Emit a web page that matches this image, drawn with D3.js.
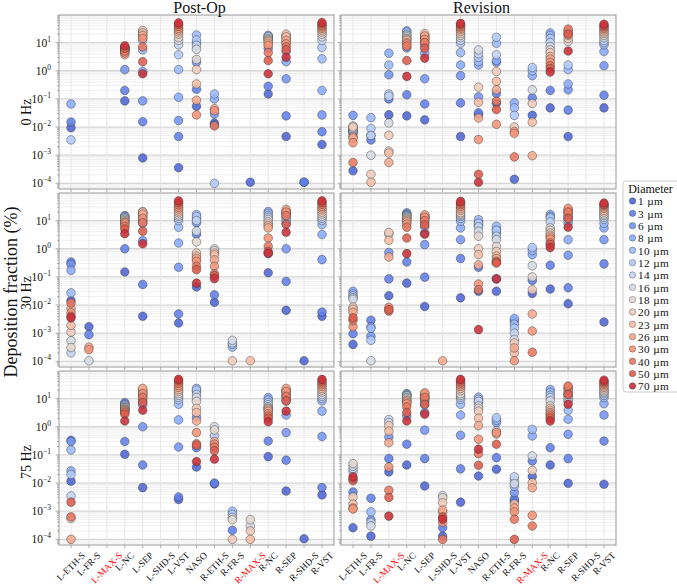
<!DOCTYPE html>
<html>
<head>
<meta charset="utf-8">
<script src="https://cdn.jsdelivr.net/npm/d3@7"></script>
<style>
  body { margin: 0; background: #fff; }
  text { font-family: "Liberation Serif", "DejaVu Serif", serif; fill: #111; }
</style>
</head>
<body>
<svg id="chart" width="677" height="585"></svg>
<script>
// Categories and labels
const regions = ['L-ETH-S', 'L-FR-S', 'L-MAX-S', 'L-NC', 'L-SEP', 'L-SHD-S', 'L-VST', 'NASO',
  'R-ETH-S', 'R-FR-S', 'R-MAX-S', 'R-NC', 'R-SEP', 'R-SHD-S', 'R-VST'];
const highlighted = ['L-MAX-S', 'R-MAX-S'];
const diameters = [1, 3, 6, 8, 10, 12, 14, 16, 18, 20, 23, 26, 30, 40, 50, 70];
const columns = ['Post-Op', 'Revision'];
const rowLabels = ['0 Hz', '30 Hz', '75 Hz'];
const yTickExps = [-4, -3, -2, -1, 0, 1];

// Deposition fraction (%) per region (rows) and per diameter (columns)
const N = null;
const none = [N, N, N, N, N, N, N, N, N, N, N, N, N, N, N, N];

const postOp0Hz = [
  [0.0095, 0.015, N, 0.066, N, 0.0035, N, N, N, N, N, N, N, N, N, N],
  none,
  none,
  [0.085, 0.2, 1.1, 4.8, 5.2, 5.6, 6.0, 6.3, 6.6, 6.9, 6.0, 3.7, 4.3, 5.0, 6.3, 7.7],
  [0.0008, 0.0155, 0.085, 0.95, 5.5, 12, 16, 20, 25, 27, 22, 18, 14, 7, 2.1, 0.78],
  none,
  [0.00036, 0.0046, 0.017, 0.115, 1.1, 3.7, 8.3, 12, 15, 20, 24, 28, 32, 38, 44, 50],
  [0.055, 0.22, 2.0, 10, 18.6, 12.4, 8, 5.8, 2.5, 1.1, 0.34, 0.09, 0.027, N, N, N],
  [0.014, 0.012, 0.029, 0.1, 0.15, 0.0001, N, N, N, N, N, 0.045, 0.038, 0.011, N, N],
  none,
  [0.00011, N, N, N, N, N, N, N, N, N, N, N, N, N, N, N],
  [0.15, 0.28, 6.3, 15, 18, 17, 16, 14, 13, 12, 11, 9.5, 8, 4.4, 2.3, 0.78],
  [0.0046, 0.025, 0.52, 2.1, 4.8, 10, 13, 16, 18, 20, 16, 12, 9, 7, 5.5, 3],
  [0.00011, 0.00011, N, N, N, N, N, N, N, N, N, N, N, N, N, N],
  [0.0024, 0.0068, 0.027, 0.2, 2.65, 6.7, 12, 16, 20, 24, 28, 32, 36, 40, 46, 52]
];

const revision0Hz = [
  [0.00028, 0.0055, 0.026, 0.0065, 0.007, 0.0075, 0.008, 0.009, 0.011, 0.01, 0.0045, 0.004, 0.0028, 0.00055, N, N],
  [N, 0.0035, N, 0.0051, 0.0215, 0.0089, 0.005, 0.001, N, 0.00021, 0.00011, N, N, N, N, N],
  [0.027, 0.1, 0.72, 4.2, 1.6, 0.15, 0.125, 0.014, 0.0014, 0.0051, 0.0012, 0.00055, N, N, N, N],
  [0.025, 0.14, 6.5, 26, 24, 20, 18, 16, 14, 13, 12, 10, 9, 7.5, 2.3, 0.63],
  [0.018, 0.066, 0.52, 4.2, 8, 10, 12, 14, 16, 18, 21, 17, 13, 10, 6.3, 2.8],
  none,
  [0.0046, 0.072, 0.67, 1.6, 4.4, 9.5, 12, 15, 18, 21, 25, 29, 33, 38, 43, 48],
  [0.028, 0.032, 0.118, 1.6, 2.1, 3, 4, 5.5, N, 0.26, 0.076, 0.021, 0.0036, N, 0.00021, 0.00011],
  [0.07, 0.155, 2.0, 2.3, 9.5, 15.4, 3.7, N, N, 0.95, 0.42, 0.21, 0.0125, 0.083, 0.042, N],
  [0.00014, N, N, 0.072, 0.048, 0.026, N, N, N, 0.01, N, 0.007, 0.006, 0.00087, N, N],
  [0.026, 0.11, N, 0.67, 1.0, 1.3, N, 0.21, N, 0.069, 0.015, 0.00096, N, N, N, N],
  [0.048, 0.2, N, 22, 18, 14, 10, 7.2, 5.5, 4.4, 3.2, 2.6, 2.0, 1.5, 1.2, 0.9],
  [0.0046, 0.04, 0.21, 0.34, 1.1, 1.6, N, N, 11, 14, 18, 22, 26, 30, 20, 5.0],
  none,
  [0.048, 0.135, 1.5, 4.8, 8.3, 10, 12, 15, 18, 21, 24, 28, 32, 36, 40, 45]
];

const postOp30Hz = [
  [0.0145, 0.34, 0.28, 0.17, 0.027, N, 0.0002, 0.00054, 0.00031, 0.0011, 0.0019, 0.0074, 0.0053, 0.0118, 0.004, 0.0035],
  [0.0017, 0.00089, N, N, N, N, N, 0.000105, N, N, N, 0.00032, 0.00026, N, N, N],
  none,
  [0.15, 1.0, 14, 15, 14, 13, 12, 11, 9.5, 10, 9, 8.5, 7.6, 6.3, 5, 3.4],
  [0.004, 0.054, 1.95, 8, 10, 12, 14, 16, 18, 21, 20, 17, 12, 8.3, 4.2, 1.5],
  none,
  [0.0023, 0.0048, 0.22, 1.6, 5.8, 10, 12, 14, 16, 19, 22, 26, 30, 36, 43, 50],
  [0.044, 3.3, 8.3, 12.4, 16.4, 14, 10, 4.2, 1.75, 0.7, 0.55, 0.45, 0.36, 0.24, 0.18, 0.06],
  [0.0126, 0.023, N, N, N, N, N, 1.0, 0.85, 0.7, 0.6, 0.4, 0.24, 0.13, 0.11, 0.087],
  [N, N, N, N, 0.00032, 0.0004, 0.00045, 0.00056, N, 0.000105, N, N, N, N, N, N],
  [N, N, N, N, N, N, N, N, N, N, 0.000105, N, N, N, N, N],
  [0.14, 0.67, N, 21, 18, 15, 13, 11, 9, 7.5, 6.5, 5.5, 2.4, 1.23, 0.8, 0.7],
  [0.0065, 0.069, 1.0, 8, 10, 12, 14, 16, 18, 20, 22, 25, 20, 15, 7.3, 3.85],
  [0.000105, N, N, N, N, N, N, N, N, N, N, N, N, N, N, N],
  [0.004, 0.0056, 0.41, 3.2, 7.2, 10, 12, 14, 17, 20, 24, 28, 32, 38, 44, 50]
];

const revision30Hz = [
  [0.0004, 0.00096, N, 0.031, 0.025, 0.021, 0.018, 0.016, N, 0.0085, 0.0071, 0.0055, 0.0017, 0.0028, 0.0035, N],
  [N, 0.0029, 0.00078, 0.0017, 0.0015, 0.00056, N, 0.000105, N, N, N, N, N, N, N, N],
  [0.0215, 0.085, 0.74, N, N, N, N, 3.3, N, 3.8, 2.0, 0.51, 0.0083, 0.0061, 0.0069, N],
  [0.06, 0.34, 19, 17, 16, 15, 14, 13, 12, 11, 10, 9, 7.5, 5.8, 2.4, 0.67],
  [0.0089, 0.098, 1.4, 3.6, 6, 8, 10, 12, 13, 14, 15, 16, 13, 10, 7, 3.3],
  [N, N, N, N, N, N, N, N, N, N, N, 0.000105, N, N, N, N],
  [0.018, 0.45, 2.1, 5.5, 9.5, 12, 14, 15.5, 17, 19, 23, 27, 32, 37, 42, 48],
  [0.031, 0.22, 7.0, 9.0, 10.8, 8, 6, 4.2, 2.8, 1.0, 0.62, 0.27, 0.056, 0.035, N, 0.00134],
  [0.031, 0.085, 3.6, 5.0, 6.3, 4.5, 2.8, 2.1, 1.2, 0.8, 0.55, 0.45, 0.36, 0.33, 0.31, 0.085],
  [N, N, 0.0027, 0.0033, 0.0021, 0.0015, 0.001, 0.0006, N, 0.00045, 0.0002, 0.0003, 0.000105, N, N, N],
  [0.026, 0.075, N, 0.62, 0.87, 1.1, N, 0.25, 0.1, 0.035, N, 0.0048, 0.0012, 0.00021, N, N],
  [0.037, 0.26, N, 16.4, 14, 12.4, 9, 5.5, 4.5, 3.6, 3, 2.6, 2.2, 1.6, 1.4, 1.1],
  [0.0112, 0.041, 0.59, 2.1, 8, 10, 12, 14, 16, 18, 21, 24, 27, 20, 12, 5.8],
  none,
  [0.0025, 0.29, 2.1, 5.5, 8, 11, 13, 15, 17, 20, 23, 27, 31, 35, 38, 42]
];

const postOp75Hz = [
  [0.0117, 0.33, 0.3, 0.027, 0.15, 0.02, 0.0035, N, 0.00055, N, N, 0.0001, N, 0.00063, 0.0021, N],
  none,
  none,
  [0.105, 0.3, 7.2, 6.5, 6, 5.5, 5, 4.8, 4.5, 4.2, 4, 3.8, 3.5, 3.2, 2.8, 1.6],
  [0.0069, 0.044, 1.0, 6, 8, 10, 12, 14, 16, 18, 20, 23, 15, 11, 7.2, 3.85],
  none,
  [0.0026, 0.0032, 0.19, 1.75, 6.3, 9, 11, 13, 15, 18, 21, 25, 29, 35, 42, 48],
  [0.037, 0.18, 2.2, 18, 23, 20, 14, 11, 8, 4.5, 3.2, 1.6, 0.62, 0.25, 0.22, 0.058],
  [0.0093, 0.01, N, N, N, 0.48, N, 1.0, 0.77, N, N, 0.3, 0.24, 0.19, 0.14, 0.071],
  [N, 0.00021, N, N, 0.001, 0.00077, N, 0.0006, 0.0005, 0.0001, N, N, N, N, N, N],
  [N, N, N, N, N, N, N, 0.0003, 0.0005, 0.0002, 0.0001, N, N, N, N, N],
  [0.087, 0.31, N, 10.8, 9, 7.2, 6, 5.1, 4.6, 4.3, 3.9, 3.5, 2.9, 2.4, 2.0, 1.5],
  [0.0052, 0.065, 0.62, 2.6, 8.3, 10, 12, 14, 16, 18, 20, 23, 18, 12, 8.3, 3.6],
  [0.000105, N, N, N, N, N, N, N, N, N, N, N, N, N, N, N],
  [0.0038, 0.0069, 0.45, 3.6, 8.3, 10, 12, 14, 17, 20, 23, 27, 31, 36, 42, 48]
];

const revision75Hz = [
  [0.00026, 0.0048, N, N, N, 0.025, 0.032, 0.04, 0.049, 0.0032, 0.0018, 0.0013, 0.0012, 0.012, 0.014, 0.0166],
  [0.00013, 0.0029, 0.0005, N, 0.00095, N, 0.0004, 0.0003, N, N, N, N, N, N, N, N],
  [0.025, 0.074, 0.43, N, N, N, 1.8, 1.4, N, 1.1, 0.7, 0.27, 0.037, 0.0055, 0.0031, 0.00067],
  [0.044, 0.24, 2.4, 15, 14, 13, 12.5, 11, 10.3, 9, 8.3, 7.5, 6.6, 5.1, 3.2, 1.6],
  [0.0079, 0.074, 0.76, 3.2, 6, 8, 9, 10, 11, 12, 13, 15, 16, 11, 6.3, 2.8],
  [0.00013, 0.00026, N, N, N, N, N, 0.0036, 0.003, 0.002, 0.00093, 0.0011, 0.0004, 0.0001, 0.00063, 0.00052],
  [0.0021, 0.032, 0.5, 2.6, 6.3, 9.5, 11.3, 13, 15, 19, 23, 27, 31, 36, 42, 48],
  [0.0178, N, N, 7.2, 11.3, 9.5, 8, 5.5, 4.5, 3.6, 2.0, 1.1, 0.36, 0.11, 0.043, 0.16],
  [0.031, 0.08, N, 1.4, 1.7, 2.1, N, 0.71, N, N, N, 0.55, 0.62, N, 0.24, N],
  [0.0023, 0.0027, 0.0046, N, 0.0077, 0.0125, 0.0166, 0.0095, N, N, 0.0018, 0.0013, 0.00095, 0.00052, 0.0001, N],
  [0.017, 0.061, N, 0.47, 0.8, N, N, 0.092, N, 0.028, 0.0103, 0.0068, 0.00071, 0.0003, N, N],
  [0.044, 0.18, N, 21, 16.5, 13, 10.8, 8.3, 5.5, 4.5, 3.8, 3.2, 2.8, 2.4, 2.0, 1.6],
  [0.0098, 0.074, 0.54, 1.85, 3.85, 8, 10, 12, 14, 16, 19, 22, 25, 28, 14, 6.3],
  none,
  [0.0091, 0.31, 2.6, 6.6, 10.8, 13, 15, 17, 19, 22, 25, 28, 32, 36, 40, 45]
];

// facets laid out as [row][column]
const facets = [
  [postOp0Hz, revision0Hz],
  [postOp30Hz, revision30Hz],
  [postOp75Hz, revision75Hz]
];

// Layout
const colX = [59, 341];
const rowY = [15, 193, 371];
const panelW = 275;
const panelH = 174;

// Matplotlib coolwarm, sampled like seaborn (end points skipped)
const coolwarm = d3.piecewise(d3.interpolateRgb, [
  '#3b4cc0', '#6282ea', '#8db0fe', '#b8d0f9', '#dddddd',
  '#f5c4ad', '#f49a7b', '#de604d', '#b40426'
]);
const color = i => coolwarm((i + 1) / (diameters.length + 1));

const svg = d3.select('#chart');

const x = d3.scalePoint().domain(regions).range([0, panelW]).padding(0.67);
const y = d3.scaleLog().domain([Math.pow(10, -4.2), Math.pow(10, 1.98)]).range([panelH, 0]);

// all tick values for the log axis (1..9 x 10^k) that fall inside the domain
const logTicks = [];
for (let k = -5; k <= 2; k++) {
  for (let m = 1; m <= 9; m++) {
    const v = m * Math.pow(10, k);
    if (v >= y.domain()[0] && v <= y.domain()[1]) logTicks.push({ v, major: m === 1 });
  }
}

function powLabel(sel, e) {
  sel.append('tspan').text('10');
  sel.append('tspan')
    .attr('dy', -5)
    .attr('font-size', 7.5)
    .text(e < 0 ? '\u2212' + (-e) : e);
}

facets.forEach((row, ri) => {
  row.forEach((facet, ci) => {
    const g = svg.append('g').attr('transform', `translate(${colX[ci]},${rowY[ri]})`);

    // grid
    g.selectAll('.hgrid')
      .data(logTicks)
      .join('line')
      .attr('x1', 0).attr('x2', panelW)
      .attr('y1', d => y(d.v)).attr('y2', d => y(d.v))
      .attr('stroke', d => d.major ? '#d6d6d6' : '#e9e9e9')
      .attr('stroke-width', d => d.major ? 1.3 : 0.7);
    g.selectAll('.vgrid')
      .data(regions)
      .join('line')
      .attr('x1', d => x(d)).attr('x2', d => x(d))
      .attr('y1', 0).attr('y2', panelH)
      .attr('stroke', '#e2e2e2')
      .attr('stroke-width', 0.8);

    // ticks on left and bottom edges
    g.selectAll('.ytick')
      .data(logTicks)
      .join('line')
      .attr('x1', d => d.major ? -3.5 : -2).attr('x2', 0)
      .attr('y1', d => y(d.v)).attr('y2', d => y(d.v))
      .attr('stroke', '#777').attr('stroke-width', 0.6);
    g.selectAll('.xtick')
      .data(regions)
      .join('line')
      .attr('x1', d => x(d)).attr('x2', d => x(d))
      .attr('y1', panelH).attr('y2', panelH + 3)
      .attr('stroke', '#777').attr('stroke-width', 0.6);

    // points, smaller diameters first so the larger ones sit on top
    const pts = [];
    diameters.forEach((dia, di) => {
      regions.forEach((reg, ri2) => {
        const v = facet[ri2][di];
        if (v !== null) pts.push({ reg, di, v });
      });
    });
    g.selectAll('circle')
      .data(pts)
      .join('circle')
      .attr('cx', d => x(d.reg))
      .attr('cy', d => y(d.v))
      .attr('r', 4.3)
      .attr('fill', d => color(d.di))
      .attr('fill-opacity', 0.88)
      .attr('stroke', '#2b2b2b')
      .attr('stroke-opacity', 0.75)
      .attr('stroke-width', 0.55);

    // frame
    g.append('rect')
      .attr('width', panelW).attr('height', panelH)
      .attr('fill', 'none')
      .attr('stroke', '#999')
      .attr('stroke-width', 1);

    // y tick labels on the left column
    if (ci === 0) {
      yTickExps.forEach(e => {
        const t = g.append('text')
          .attr('x', -8)
          .attr('y', y(Math.pow(10, e)) + 4)
          .attr('text-anchor', 'end')
          .attr('font-size', 11.5);
        powLabel(t, e);
      });
    }

    // x tick labels on the bottom row
    if (ri === rowY.length - 1) {
      regions.forEach(reg => {
        const t = g.append('text')
          .attr('text-anchor', 'middle')
          .attr('dominant-baseline', 'central')
          .attr('font-size', 9.5)
          .style('fill', highlighted.includes(reg) ? '#ff0000' : '#111')
          .text(reg);
        const len = t.node().getComputedTextLength();
        const half = (len + 8) * 0.7071 / 2;
        t.attr('transform', `translate(${x(reg)},${panelH + 6 + half}) rotate(-45)`);
      });
    }
  });
});

// column titles
svg.selectAll('.coltitle')
  .data(columns)
  .join('text')
  .attr('x', (d, i) => colX[i] + panelW / 2 + 3)
  .attr('y', 13)
  .attr('text-anchor', 'middle')
  .attr('font-size', 16)
  .text(d => d);

// row labels
const rowLabelY = [112, 293, 462];
rowLabels.forEach((lab, i) => {
  svg.append('text')
    .attr('transform', `translate(31,${rowLabelY[i]}) rotate(-90)`)
    .attr('text-anchor', 'middle')
    .attr('font-size', 14)
    .text(lab);
});

// shared y label
svg.append('text')
  .attr('transform', 'translate(16.5,292) rotate(-90)')
  .attr('text-anchor', 'middle')
  .attr('font-size', 18)
  .text('Deposition fraction (%)');

// legend
const lg = svg.append('g').attr('transform', 'translate(623,183)');
lg.append('rect')
  .attr('y', -2)
  .attr('width', 70).attr('height', 211)
  .attr('rx', 3)
  .attr('fill', '#fff').attr('fill-opacity', 0.85)
  .attr('stroke', '#cccccc');
lg.append('text')
  .attr('x', 27.5).attr('y', 9.5)
  .attr('text-anchor', 'middle')
  .attr('font-size', 12)
  .text('Diameter');
const items = lg.selectAll('.item')
  .data(diameters)
  .join('g')
  .attr('transform', (d, i) => `translate(0,${18 + i * 12.33})`);
items.append('circle')
  .attr('cx', 9.5).attr('r', 3.2)
  .attr('fill', (d, i) => color(i))
  .attr('fill-opacity', 0.9)
  .attr('stroke', '#2b2b2b').attr('stroke-opacity', 0.7)
  .attr('stroke-width', 0.5);
items.append('text')
  .attr('x', 15).attr('y', 4.3)
  .attr('font-size', 11.2)
  .attr('letter-spacing', 0.4)
  .text(d => `${d} \u00b5m`);
</script>
</body>
</html>
